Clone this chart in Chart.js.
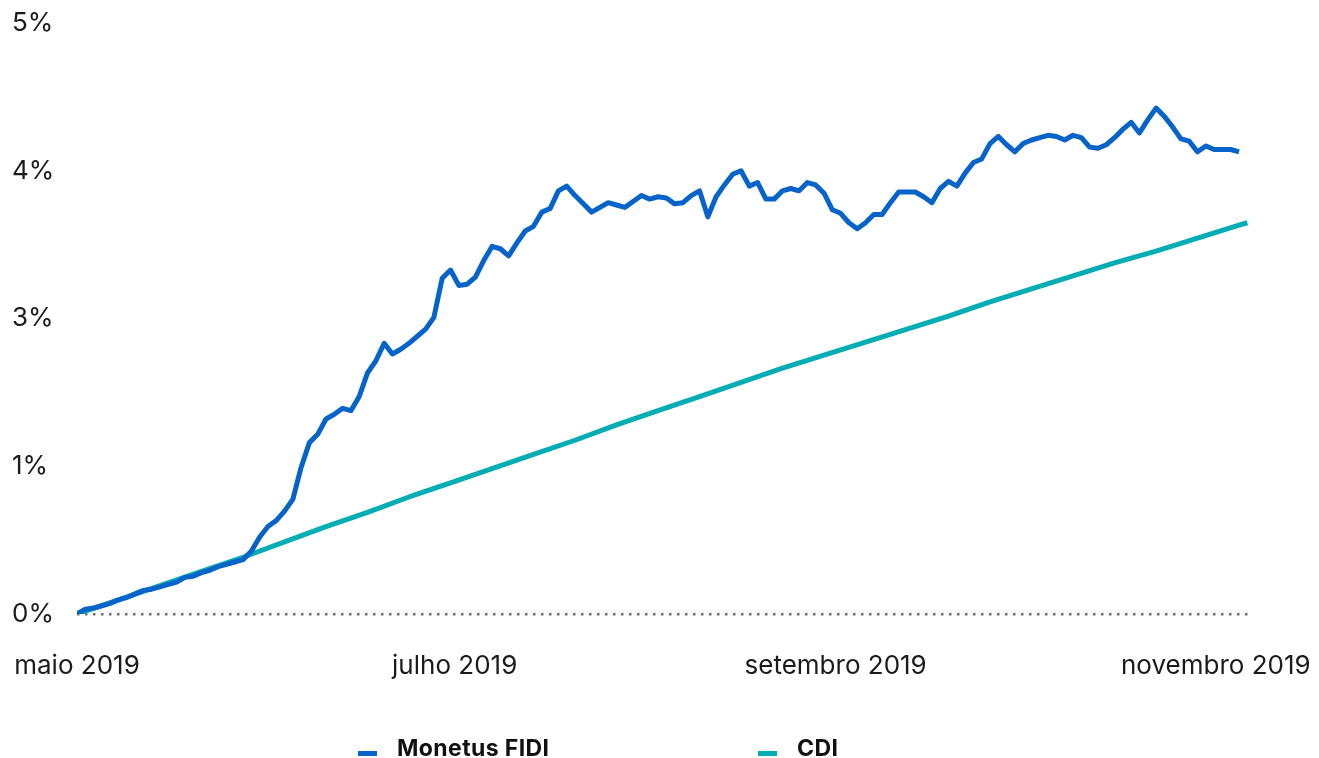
<!DOCTYPE html>
<html lang="pt-BR">
<head>
<meta charset="utf-8">
<script src="https://cdn.jsdelivr.net/npm/chart.js@4.4.1/dist/chart.umd.min.js"></script>
<style>
  html, body { margin: 0; padding: 0; background: #fff; }
  .wrap { position: relative; width: 1319px; height: 758px; }
  .legend { position: absolute; top: 737px; left: 358px; display: flex; font-family: Inter, "DejaVu Sans", sans-serif; font-weight: 700; font-size: 23px; line-height: 23px; letter-spacing: 0.4px; color: #111; }
  .legend .item { width: 400px; white-space: nowrap; }
  .legend .mark { display: inline-block; width: 19px; height: 5px; margin-right: 20px; vertical-align: baseline; }
</style>
</head>
<body>
<div class="wrap">
  <canvas id="chart"></canvas>
  <div class="legend">
    <div class="item"><span class="mark" style="background:#0563C9"></span>Monetus FIDI</div>
    <div class="item"><span class="mark" style="background:#00ADB5"></span>CDI</div>
  </div>
</div>
<script>
// rentabilidade acumulada (%) - um ponto por dia útil
const fidiValues = [
  0.00, 0.04, 0.05, 0.07, 0.09, 0.12, 0.14, 0.17, 0.20, 0.21,
  0.23, 0.25, 0.27, 0.31, 0.32, 0.35, 0.37, 0.40, 0.42, 0.44,
  0.46, 0.53, 0.65, 0.74, 0.79, 0.87, 0.97, 1.24, 1.45, 1.52,
  1.65, 1.69, 1.74, 1.72, 1.84, 2.04, 2.14, 2.29, 2.20, 2.24,
  2.29, 2.35, 2.41, 2.51, 2.84, 2.91, 2.78, 2.79, 2.85, 2.99,
  3.11, 3.09, 3.03, 3.14, 3.24, 3.28, 3.40, 3.43, 3.58, 3.62,
  3.54, 3.47, 3.40, 3.44, 3.48, 3.46, 3.44, 3.49, 3.54, 3.51,
  3.53, 3.52, 3.47, 3.48, 3.54, 3.58, 3.36, 3.53, 3.63, 3.72,
  3.75, 3.62, 3.65, 3.51, 3.51, 3.58, 3.60, 3.58, 3.65, 3.63,
  3.56, 3.42, 3.39, 3.31, 3.26, 3.31, 3.38, 3.38, 3.48, 3.57,
  3.57, 3.57, 3.53, 3.48, 3.60, 3.66, 3.62, 3.73, 3.82, 3.85,
  3.98, 4.04, 3.97, 3.91, 3.98, 4.01, 4.03, 4.05, 4.04, 4.01,
  4.05, 4.03, 3.95, 3.94, 3.97, 4.03, 4.10, 4.16, 4.07, 4.18,
  4.28, 4.21, 4.12, 4.02, 4.00, 3.91, 3.96, 3.93, 3.93, 3.93,
  3.91
];

// CDI lido semana a semana (índice do dia útil)
const cdiDays = [0, 5, 10, 15, 20, 25, 30, 35, 40, 45, 50, 55, 60, 65, 70,
  75, 80, 85, 90, 95, 100, 105, 110, 115, 120, 125, 130, 135, 140, 141];
const cdiValues = [0.00, 0.12, 0.24, 0.36, 0.48, 0.61, 0.74, 0.86, 0.99, 1.11,
  1.23, 1.35, 1.47, 1.60, 1.72, 1.84, 1.96, 2.08, 2.19, 2.30,
  2.41, 2.52, 2.64, 2.75, 2.86, 2.97, 3.07, 3.18, 3.29, 3.31];

const xTickDays = [0, 45.5, 91.4, 137.2];
const xTickLabels = ['maio 2019', 'julho 2019', 'setembro 2019', 'novembro 2019'];
const yTickValues = [0, 1.25, 2.5, 3.75, 5];
const yTickLabels = ['0%', '1%', '3%', '4%', '5%'];

const tickFont = { family: 'Inter, "DejaVu Sans", sans-serif', size: 26 };

const ctx = document.getElementById('chart').getContext('2d');
const chart = new Chart(ctx, {
    type: 'line',
    data: {
        datasets: [
            {
                label: 'Monetus FIDI',
                data: fidiValues.map((v, i) => ({ x: i, y: v })),
                borderColor: '#0563C9',
                borderWidth: 5,
                pointRadius: 0,
                tension: 0,
                borderJoinStyle: 'round'
            },
            {
                label: 'CDI',
                data: cdiValues.map((v, i) => ({ x: cdiDays[i], y: v })),
                borderColor: '#00ADB5',
                borderWidth: 5,
                pointRadius: 0,
                tension: 0,
                borderJoinStyle: 'round'
            }
        ]
    },
    options: {
        responsive: true,
        maintainAspectRatio: false,
        animation: false,
        layout: { padding: { left: 12, top: 23, right: 70, bottom: 64 } },
        plugins: {
            legend: { display: false },
            tooltip: { enabled: false }
        },
        scales: {
            x: {
                type: 'linear',
                min: 0,
                max: 141.2,
                grid: { display: false },
                border: { display: false },
                afterBuildTicks: (s) => { s.ticks = xTickDays.map(v => ({ value: v })); },
                afterFit: (s) => { s.height = 80; s.paddingLeft = 0; s.paddingRight = 0; },
                ticks: {
                    padding: 29,
                    maxRotation: 0,
                    autoSkip: false,
                    color: '#1b1b1b',
                    font: tickFont,
                    callback: (v, i) => xTickLabels[i]
                }
            },
            y: {
                min: 0,
                max: 5,
                afterBuildTicks: (s) => { s.ticks = yTickValues.map(v => ({ value: v })); },
                afterFit: (s) => { s.width = 65; },
                grid: {
                    drawTicks: false,
                    lineWidth: 2.5,
                    color: (c) => (c.tick && c.tick.value === 0 ? '#707070' : 'transparent')
                },
                border: { display: false, dash: [2.5, 5.5] },
                ticks: {
                    crossAlign: 'far',
                    padding: 0,
                    color: '#1b1b1b',
                    font: tickFont,
                    callback: (v, i) => yTickLabels[i]
                }
            }
        }
    }
});
</script>
</body>
</html>
